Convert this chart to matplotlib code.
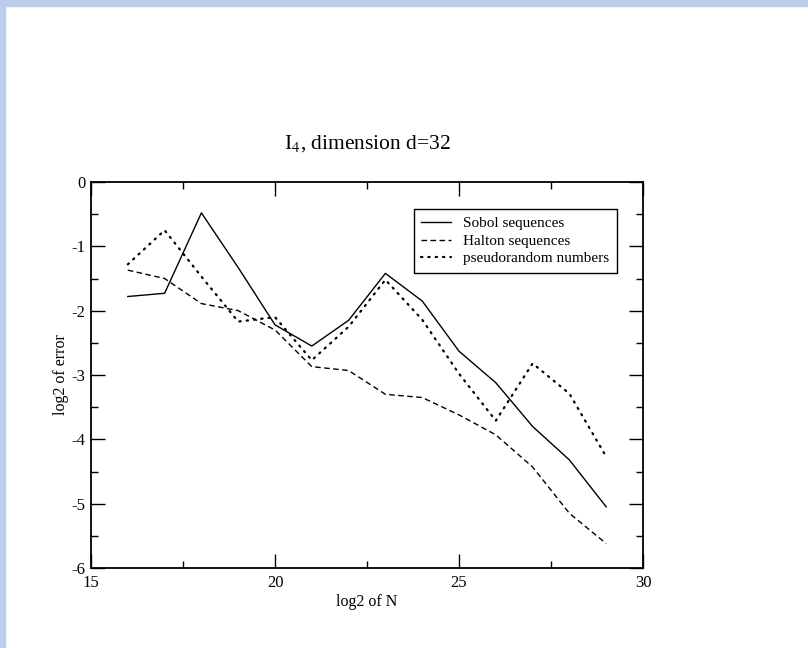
import matplotlib
matplotlib.use("Agg")
import matplotlib.pyplot as plt
from matplotlib.patches import Rectangle
from matplotlib.ticker import MultipleLocator

plt.rcParams['font.family'] = ['Liberation Serif', 'DejaVu Serif']
plt.rcParams['mathtext.fontset'] = 'stix'
plt.rcParams['axes.unicode_minus'] = False

log2_N = [16, 17, 18, 19, 20, 21, 22, 23, 24, 25, 26, 27, 28, 29]
sobol = [-1.78, -1.73, -0.48, -1.33, -2.22, -2.55, -2.15, -1.42, -1.85, -2.63, -3.12, -3.80, -4.32, -5.05]
halton = [-1.37, -1.50, -1.89, -2.00, -2.30, -2.87, -2.93, -3.30, -3.35, -3.62, -3.93, -4.43, -5.15, -5.62]
pseudo = [-1.28, -0.75, -1.47, -2.17, -2.10, -2.77, -2.25, -1.52, -2.14, -2.98, -3.71, -2.82, -3.29, -4.27]

fig = plt.figure(figsize=(8.08, 6.48), dpi=100)
fig.patch.set_facecolor('white')
# light blue frame on top and left
fig.patches.append(Rectangle((0, 1 - 6/648), 1, 6/648, transform=fig.transFigure,
                             color='#bccdeb', zorder=0))
fig.patches.append(Rectangle((0, 0), 5/808, 1, transform=fig.transFigure,
                             color='#bccdeb', zorder=0))

ax = fig.add_axes([91/808, 80/648, 552/808, 386/648])
ax.plot(log2_N, sobol, color='black', lw=1.0, ls='-', label='Sobol sequences')
ax.plot(log2_N, halton, color='black', lw=1.0, ls=(0, (4, 2.5)), label='Halton sequences')
ax.plot(log2_N, pseudo, color='black', lw=1.6, ls=(0, (0.6, 2.7)), dash_capstyle='round',
        label='pseudorandom numbers')

ax.set_xlim(15, 30)
ax.set_ylim(-6, 0)
ax.xaxis.set_major_locator(MultipleLocator(5))
ax.xaxis.set_minor_locator(MultipleLocator(2.5))
ax.yaxis.set_major_locator(MultipleLocator(1))
ax.yaxis.set_minor_locator(MultipleLocator(0.5))
ax.tick_params(which='both', direction='in', top=True, right=True, labelsize=12, width=1.0)
ax.tick_params(which='major', length=10)
ax.tick_params(which='minor', length=5)
ax.tick_params(axis='x', pad=5)
ax.tick_params(axis='y', pad=4)
for s in ax.spines.values():
    s.set_linewidth(1.3)

ax.set_xlabel('log2 of N', fontsize=11.5, labelpad=2)
ax.set_ylabel('log2 of error', fontsize=11.5, labelpad=2)
ax.set_title(r'I$_4$, dimension d=32', fontsize=15.5, pad=24)

leg = ax.legend(loc='upper right', bbox_to_anchor=(0.952, 0.93), fontsize=11,
                frameon=True, fancybox=False, edgecolor='black', framealpha=1,
                handlelength=1.9, handletextpad=0.8, borderpad=0.5, labelspacing=0.25,
                borderaxespad=0)
leg.get_frame().set_linewidth(1.0)

fig.savefig('out.png', dpi=100)
